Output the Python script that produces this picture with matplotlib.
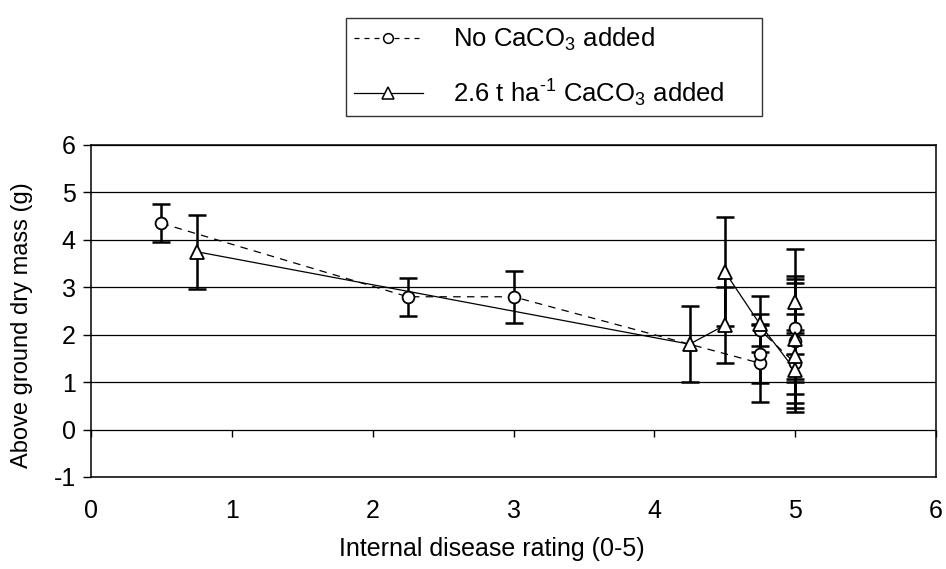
import matplotlib
matplotlib.use("Agg")
import matplotlib.pyplot as plt
from matplotlib.lines import Line2D

plt.rcParams['font.family'] = ['Liberation Sans', 'DejaVu Sans']
plt.rcParams['mathtext.fontset'] = 'custom'
plt.rcParams['mathtext.rm'] = 'Liberation Sans'
plt.rcParams['mathtext.it'] = 'Liberation Sans'
plt.rcParams['font.size'] = 18

# Internal disease rating vs above ground dry mass (mean +/- error)
no_lime_x = [0.5, 2.25, 3.0, 4.75, 4.75, 4.75, 5.0, 5.0, 5.0]
no_lime_y = [4.35, 2.8, 2.8, 1.4, 1.6, 2.1, 1.4, 1.86, 2.15]
no_lime_err = [0.4, 0.4, 0.55, 0.81, 0.62, 0.33, 1.04, 1.31, 1.08]

lime_x = [0.75, 4.25, 4.5, 4.5, 4.75, 5.0, 5.0, 5.0, 5.0]
lime_y = [3.75, 1.8, 2.2, 3.33, 2.22, 1.25, 1.55, 1.92, 2.7]
lime_err = [0.78, 0.8, 0.8, 1.15, 0.59, 0.79, 0.54, 1.18, 1.1]

x_ticks = [0, 1, 2, 3, 4, 5, 6]
y_ticks = [-1, 0, 1, 2, 3, 4, 5, 6]

label_no_lime = r'No CaCO$_3$ added'
label_lime = r'2.6 t ha$^{\text{-1}}$ CaCO$_3$ added'

fig = plt.figure(figsize=(9.46, 5.69), dpi=100)
ax = fig.add_axes([91 / 946, 1 - 477 / 569, (936 - 91) / 946, (477 - 145) / 569])

ax.set_xlim(0, 6)
ax.set_ylim(-1, 6)

# horizontal gridlines
for yv in y_ticks:
    ax.axhline(yv, color='black', lw=0.9, zorder=1)

# error bars
ax.errorbar(no_lime_x, no_lime_y, yerr=no_lime_err, fmt='none', ecolor='black',
            elinewidth=1.8, capsize=6.5, capthick=1.8, zorder=3)
ax.errorbar(lime_x, lime_y, yerr=lime_err, fmt='none', ecolor='black',
            elinewidth=1.8, capsize=6.5, capthick=1.8, zorder=3)

# connecting lines
ax.plot(no_lime_x, no_lime_y, color='black', lw=0.9, ls=(0, (6, 5)), zorder=4)
ax.plot(lime_x, lime_y, color='black', lw=0.9, ls='-', zorder=4)

# markers
ax.plot(no_lime_x, no_lime_y, ls='none', marker='o', ms=8.5, mfc='white',
        mec='black', mew=1.3, zorder=5)
ax.plot(lime_x, lime_y, ls='none', marker='^', ms=10, mfc='white',
        mec='black', mew=1.3, zorder=5)

# frame
for s in ax.spines.values():
    s.set_color('black')
    s.set_linewidth(1.1)

ax.set_yticks(y_ticks)
ax.set_yticklabels([str(v) for v in y_ticks])
ax.tick_params(axis='y', direction='out', length=6, width=1, pad=5, labelsize=18)

ax.set_xticks(x_ticks)
ax.set_xticklabels([str(v) for v in x_ticks])
ax.tick_params(axis='x', length=0, pad=16, labelsize=18)

# x axis crossing at y = 0 with downward ticks
sec = ax.secondary_xaxis(1 / 7)
sec.set_xticks(x_ticks)
sec.tick_params(axis='x', direction='out', length=5, width=1, labelbottom=False,
                labeltop=False, bottom=True, top=False)
sec.xaxis.set_ticks_position('bottom')
sec.set_xticklabels([])
sec.spines['bottom'].set_linewidth(0)
sec.spines['top'].set_linewidth(0)

ax.set_xlabel('Internal disease rating (0-5)', fontsize=18)
ax.xaxis.set_label_coords((492 - 91) / 845, (477 - 537) / 332)
ax.set_ylabel('Above ground dry mass (g)', fontsize=17)
ax.yaxis.set_label_coords((33 - 91) / 845, (477 - 325) / 332)

handles = [
    Line2D([], [], color='black', lw=0.9, ls=(0, (4, 4)), marker='o', ms=7,
           mfc='white', mec='black', mew=1.1),
    Line2D([], [], color='black', lw=0.9, ls='-', marker='^', ms=8,
           mfc='white', mec='black', mew=1.1),
]
leg = fig.legend(handles, [label_no_lime, label_lime], loc='upper left',
                 bbox_to_anchor=(346 / 946, 1 - 114 / 569, (762 - 346) / 946, 96 / 569),
                 mode='expand', fontsize=18.5,
                 frameon=True, fancybox=False, shadow=False, edgecolor='black',
                 handlelength=2.7, handletextpad=1.15, labelspacing=0.95,
                 borderpad=0.3, borderaxespad=0, numpoints=1)
leg.get_frame().set_linewidth(1.0)

fig.savefig('out.png', dpi=100)
